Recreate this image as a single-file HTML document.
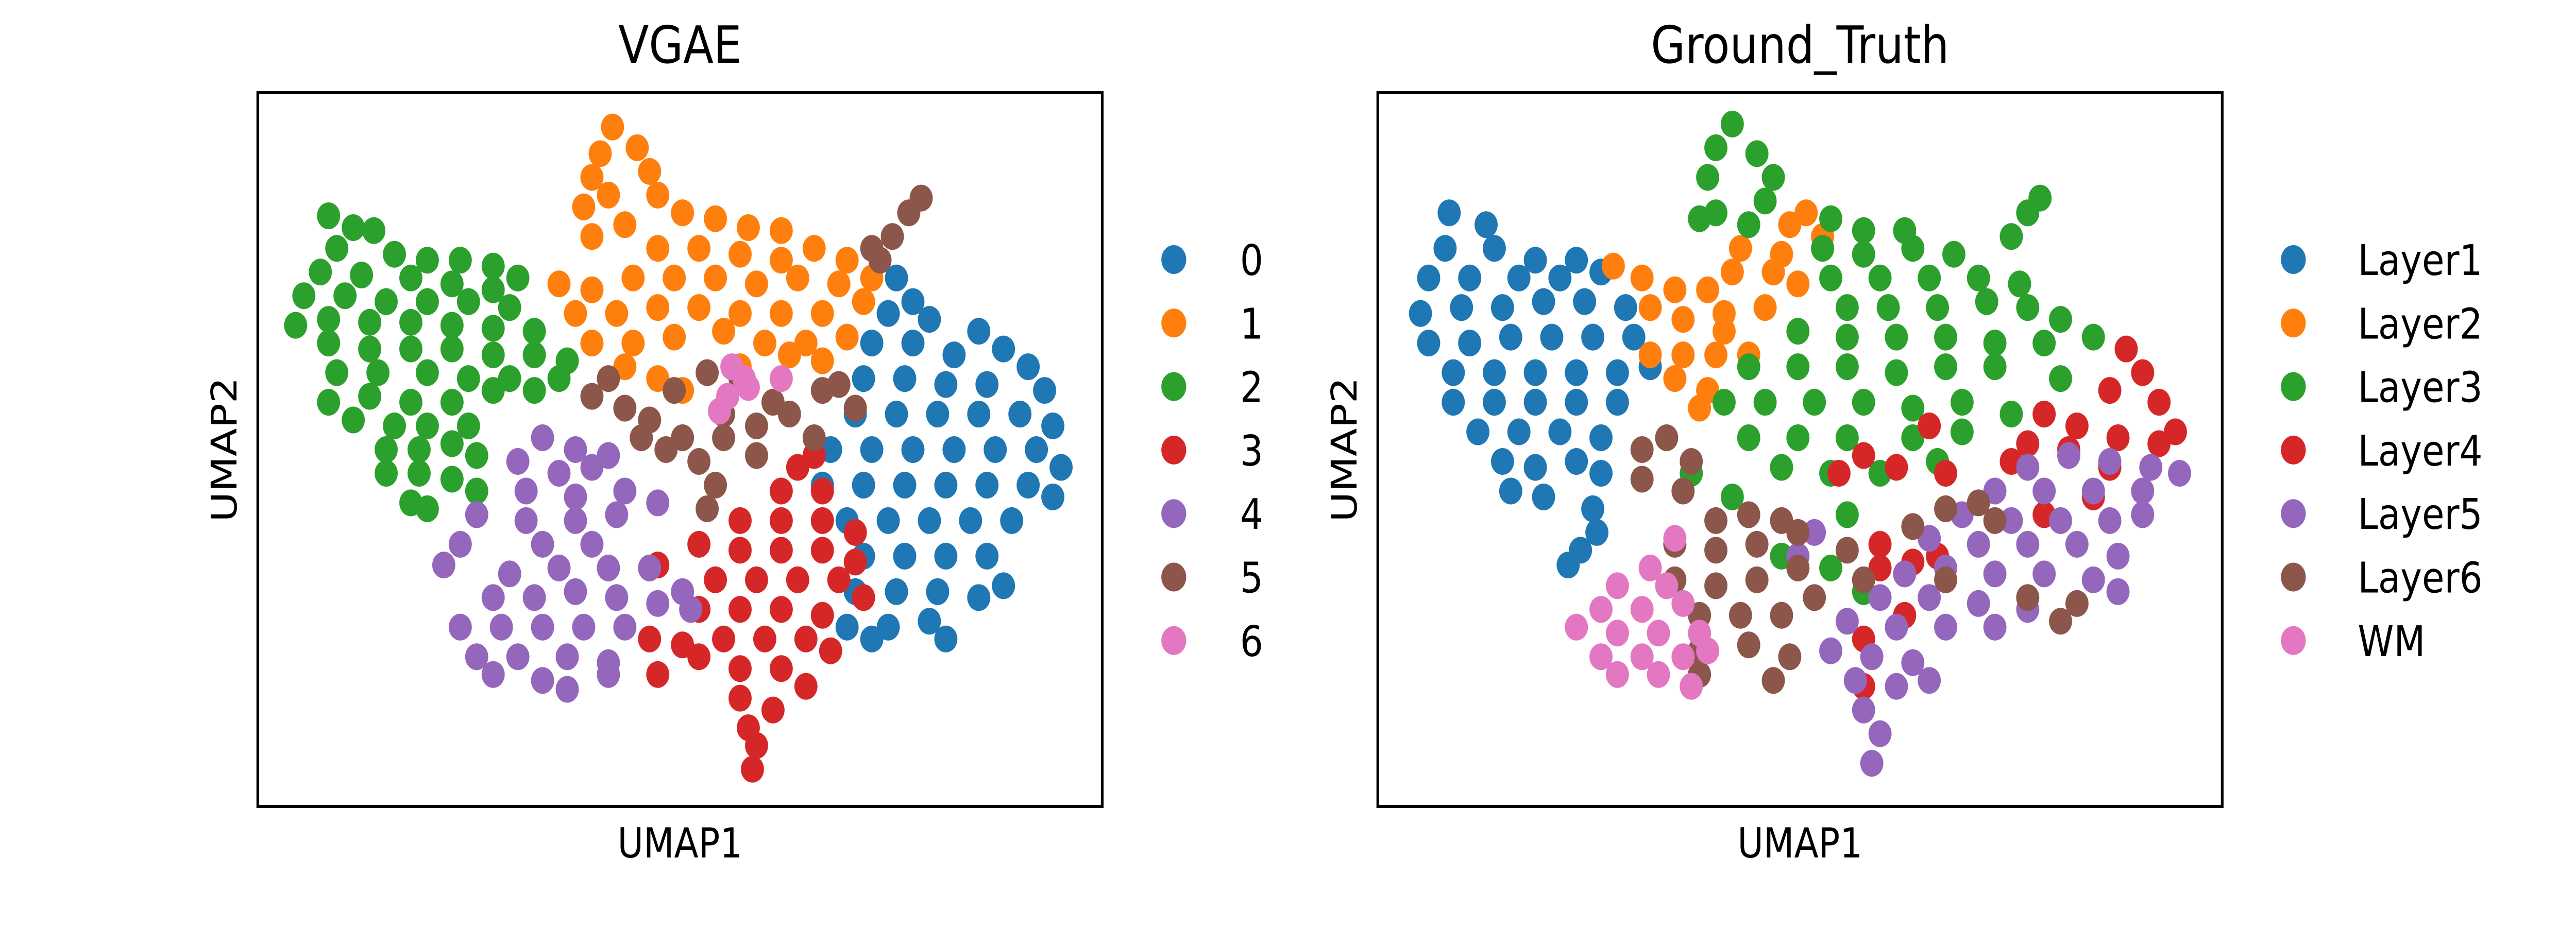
<!DOCTYPE html>
<html><head><meta charset="utf-8"><style>
html,body{margin:0;padding:0;background:#fff;width:100%;height:100%;overflow:hidden;}
svg{display:block;width:100vw;height:100vh;font-family:"DejaVu Sans","Liberation Sans",sans-serif;}
</style></head><body>
<svg id="fig" viewBox="0 0 5796 1800" preserveAspectRatio="none" xmlns="http://www.w3.org/2000/svg">
<rect width="5796" height="1800" fill="#fff"/>
<g id="left">
<text x="1530" y="122" font-size="100" text-anchor="middle">VGAE</text>
<g id="lpts"></g>
<rect x="580" y="180" width="1900" height="1386" fill="none" stroke="#000" stroke-width="6"/>
<text x="1530" y="1665" font-size="80" text-anchor="middle">UMAP1</text>
<text transform="translate(532,873) rotate(-90)" font-size="80" text-anchor="middle">UMAP2</text>
<g id="lleg"></g>
</g>
<g id="right">
<text x="4050" y="122" font-size="100" text-anchor="middle">Ground_Truth</text>
<g id="rpts"></g>
<rect x="3100" y="180" width="1900" height="1386" fill="none" stroke="#000" stroke-width="6"/>
<text x="4050" y="1665" font-size="80" text-anchor="middle">UMAP1</text>
<text transform="translate(3052,873) rotate(-90)" font-size="80" text-anchor="middle">UMAP2</text>
<g id="rleg"></g>
</g>
</svg>
<script>
const colors=["#1f77b4","#ff7f0e","#2ca02c","#d62728","#9467bd","#8c564b","#e377c2"];
const vgaeLabels=["0","1","2","3","4","5","6"];
const gtLabels=["Layer1","Layer2","Layer3","Layer4","Layer5","Layer6","WM"];
// VGAE clusters (UMAP1, UMAP2)
const vgae0=[[109,93],[111,89],[108,87],[113,86],[119,84],[122,81],[106,82],[111,82],[116,80],[125,78],[105,76],[110,76],[115,75],[120,75],[127,74],[104,70],[109,70],[114,70],[119,70],[124,70],[128,68],[101,64],[106,64],[111,64],[116,64],[121,64],[126,64],[129,61],[100,58],[105,58],[110,58],[115,58],[120,58],[125,58],[128,56],[103,52],[108,52],[113,52],[118,52],[123,52],[105,46],[110,46],[115,46],[120,46],[122,41],[104,40],[109,40],[114,40],[119,39],[103,34],[108,34],[113,35],[115,32],[106,32]];
const vgae1=[[74.5,118.5],[73,114],[77.5,115],[72,110],[79,111],[71,105],[80,107],[74,107],[76,102],[72,100],[83,104],[87,103],[91,101.5],[95,101],[80,98],[85,98],[90,97],[95,96],[99,98],[103,96],[68,92],[72,91],[77,93],[82,93],[87,93],[92,92],[97,93],[102,92],[106,93],[70,87],[75,87],[80,88],[85,88],[90,87],[95,87],[100,87],[105,89],[72,82],[77,82],[82,83],[88,84],[93,82],[98,82],[103,83],[76,78],[80,76],[83,74],[90,78],[96,80],[100,79]];
const vgae2=[[40,103.5],[43,101.5],[45.5,101],[41,98],[48,97],[52,96],[56,96],[60,95],[39,94],[44,93.5],[50,93],[55,92],[60,91],[63,93],[37,90],[42,90],[47,89],[52,89],[57,89],[62,88],[36,85],[40,86],[45,85.5],[50,85.5],[55,85],[60,84.5],[65,84],[40,82],[45,81],[50,81],[55,81],[60,80],[65,80],[69,79],[41,77],[46,77],[52,77],[57,76],[62,76],[68,76],[40,72],[45,73],[50,72],[55,72],[60,74],[65,74],[43,69],[48,68],[52,68],[57,68],[47,64],[51,64],[55,65],[58,63],[47,60],[51,60],[55,59],[58,57],[50,55],[52,54]];
const vgae3=[[97,61],[99,63],[95,57],[100,57],[90,52],[95,52],[100,52],[104,50],[85,48],[90,47],[95,47],[100,47],[104,45],[80,44.5],[87,42],[92,42],[97,42],[102,42],[105,39],[85,37],[90,37],[95,37],[100,36],[79,32],[83,31],[88,32],[93,32],[98,32],[101,30],[80,26],[85,29],[90,27],[95,27],[98,24],[90,22],[94,20],[91,17],[92,14],[91.5,10]];
const vgae4=[[66,66],[70,64],[74,63],[63,62],[68,60],[72,61],[64,57],[70,56],[76,57],[80,55],[58,53],[64,52],[70,52],[75,53],[56,48],[66,48],[72,48],[54,44.5],[62,43],[68,44],[74,44],[79,44],[60,39],[65,39],[70,40],[75,39],[80,38],[84,37],[56,34],[61,34],[66,34],[71,34],[76,34],[58,29],[63,29],[69,29],[74,28],[60,26],[66,25],[69,23.5],[74,26],[83,40]];
const vgae5=[[72,73],[76,71],[74,76],[79,69],[83,66],[85,62],[87,58],[86,54],[82,74],[86,77],[90,76],[88,70],[92,68],[94,72],[96,70],[100,74],[102,75],[104,71],[99,66],[92,63],[88,66],[81,64],[78,66],[106,98],[108.5,100],[110.5,104],[112,106.5],[107,96]];
const vgae6=[[89,78],[90.5,76],[88.5,73],[87.5,70.5],[91,74.5],[95,76]];
// Ground truth clusters
const gt1=[[19.5,104],[24,102],[19,98],[25,98],[30,96],[35,96],[17,93],[22,93],[28,93],[33,93],[38,94],[16,87],[21,88],[26,88],[31,89],[36,89],[41,88],[17,82],[22,82],[27,83],[32,83],[37,83],[42,83],[20,77],[25,77],[30,77],[35,77],[40,77],[44,78],[20,72],[25,72],[30,72],[35,72],[40,72],[23,67],[28,67],[33,67],[38,66],[26,62],[30,61],[35,62],[38,60],[27,57],[31,56],[37,54],[37.5,50],[35.5,47],[34,44.5]];
const gt2=[[39.5,95],[43,93],[47,91],[51,91],[44,88],[48,86],[53,87],[58,88],[62,92],[61,102],[63,104],[65,100],[55,98],[54,94],[59,94],[44,80],[48,80],[52,80],[56,80],[47,76],[51,74],[50,71],[53,84],[60,97]];
const gt3=[[54,119],[52,115],[57,114],[51,110],[59,110],[52,104],[58,106],[56,102],[50,103],[66,103],[70,101],[75,101],[65,98],[70,97],[76,98],[81,97],[66,93],[72,93],[78,93],[84,93],[89,92],[68,88],[73,88],[79,88],[85,89],[90,88],[94,86],[62,84],[68,83],[74,83],[80,83],[86,82],[92,82],[98,83],[56,78],[62,78],[68,78],[74,77],[80,78],[86,78],[94,76],[53,72],[58,72],[64,72],[70,72],[76,71],[82,72],[88,70],[56,66],[62,66],[68,66],[76,66],[82,67],[60,61],[66,60],[72,60],[79,62],[54,56],[60,46],[68,53],[70,40],[66,44],[49,60],[88,100],[90,104],[91.5,106.5]];
const gt4=[[102,81],[104,77],[100,74],[106,72],[92,70],[96,68],[101,66],[106,65],[108,67],[90,65],[95,64],[88,62],[100,61],[70,63],[67,60],[74,61],[78,68],[92,53],[72,48],[72,44],[76,45],[79,46],[70,32],[70,24],[75,36],[98,56],[80,60]];
const gt5=[[90,61],[95,63],[100,62],[105,61],[108.5,60],[86,57],[92,57],[98,57],[104,57],[82,53],[88,52],[94,52],[100,52],[104,53],[78,49],[84,48],[90,48],[96,48],[101,46],[75,43],[80,44],[86,43],[92,43],[98,42],[101,40],[72,39],[78,39],[84,38],[90,37],[68,35],[74,34],[80,34],[86,34],[66,30],[71,29],[76,28],[69,25],[74,24],[78,25],[70,20],[72,16],[71,11],[64,50],[62,46]];
const gt6=[[43,64],[46,66],[49,62],[43,59],[48,57],[52,52],[56,53],[60,52],[47,48],[52,47],[57,48],[62,50],[47,42],[52,41],[57,42],[62,44],[50,36],[55,36],[60,36],[64,39],[50,30],[56,31],[61,29],[59,25],[50,26],[68,47],[70,42],[76,51],[80,54],[84,55],[86,52],[90,39],[94,35],[96,38],[80,42]];
const gtWM=[[47,49],[44,44],[40,41],[46,41],[38,37],[43,37],[48,38],[35,34],[40,33],[45,33],[50,33],[38,29],[43,29],[48,29],[51,30],[40,26],[45,26],[49,24]];

const NS="http://www.w3.org/2000/svg";
const yTop=180,yH=1386;
function makeX(x0,dmin,dmax){return u=>x0+(u-dmin)/(dmax-dmin)*1900;}
function yS(u){return yTop+(124.3-u)/120.6*yH;}
const xL=makeX(580,31.4,134.0);
const xR=makeX(3100,10.8,113.7);
function draw(gid,sets,xs,names){
  const g=document.getElementById(gid);
  sets.forEach((pts,ci)=>{
    pts.forEach(p=>{
      const c=document.createElementNS(NS,"circle");
      
      
      c.setAttribute("cx",xs(p[0]));c.setAttribute("cy",yS(p[1]));
      c.setAttribute("r",26);c.setAttribute("fill",colors[ci]);
      g.appendChild(c);
    });
  });
}
draw("lpts",[vgae0,vgae1,vgae2,vgae3,vgae4,vgae5,vgae6],xL,vgaeLabels);
draw("rpts",[gt1,gt2,gt3,gt4,gt5,gt6,gtWM],xR,gtLabels);
function legend(gid,labels,mx,tx){
  const g=document.getElementById(gid);
  labels.forEach((l,i)=>{
    const y=504+i*123.3;
    const c=document.createElementNS(NS,"circle");
    
    
    c.setAttribute("cx",mx);c.setAttribute("cy",y);c.setAttribute("r",28);c.setAttribute("fill",colors[i]);
    g.appendChild(c);
    const t=document.createElementNS(NS,"text");
    
    
    t.setAttribute("x",tx);t.setAttribute("y",y+30);t.setAttribute("font-size","82");
    t.textContent=l;g.appendChild(t);
  });
}
legend("lleg",vgaeLabels,2641,2790);
legend("rleg",gtLabels,5160,5305);
</script>
</body></html>
